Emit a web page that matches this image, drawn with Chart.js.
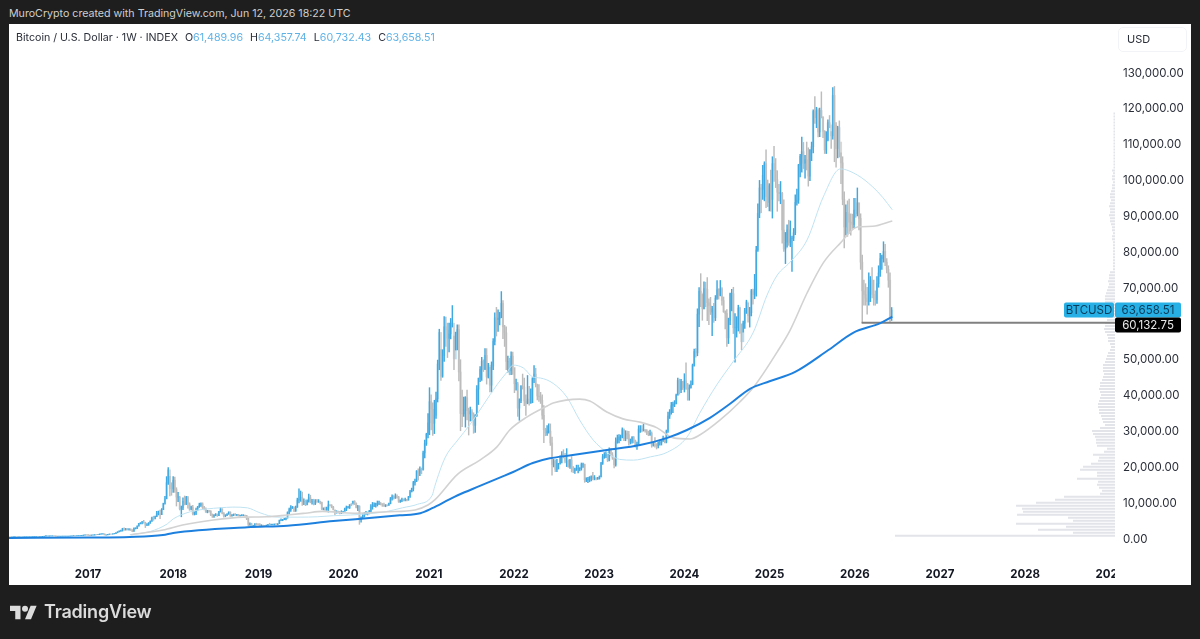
<!DOCTYPE html>
<html><head><meta charset="utf-8">
<style>
html,body{margin:0;padding:0;width:1200px;height:639px;overflow:hidden;background:#1e1e1e;font-family:Inter,"Liberation Sans",sans-serif}
#panel{position:absolute;left:9px;top:24px;width:1182px;height:561px;background:#fff}
canvas{position:absolute;left:0;top:0}
#top{position:absolute;left:9px;top:6px;font-size:10.65px;line-height:16px;color:#cfcfcf;white-space:nowrap}
#legend{position:absolute;left:16px;top:30px;font-size:10.65px;line-height:16px;color:#2a2e39;white-space:nowrap}
#legend b{font-weight:400;color:#5fb2e6;margin-right:7px}
#legend span{margin-right:7px}
#usd{position:absolute;left:1118px;top:27px;width:67px;height:23px;border:1px solid #f2f3f6;border-radius:5px;font-size:11px;line-height:23px;color:#2a2e39;text-indent:8px;box-sizing:content-box}
#brand{position:absolute;left:10px;top:600px;height:24px;color:#dcdcdc;font-size:18px;font-weight:600;line-height:24px;display:flex;align-items:center;gap:7px;letter-spacing:-.2px}
</style></head><body>
<div id="panel"></div>
<div id="top">MuroCrypto created with TradingView.com, Jun 12, 2026 18:22 UTC</div>
<canvas id="c" width="1200" height="639"></canvas>
<div id="legend"><span>Bitcoin / U.S. Dollar · 1W · INDEX</span>O<b>61,489.96</b>H<b>64,357.74</b>L<b>60,732.43</b>C<b>63,658.51</b></div>
<div id="usd">USD</div>
<div id="brand"><svg width="27" height="17" viewBox="0 3 36 20" fill="#dcdcdc"><path d="M14 22H7V11H0V4h14v18zM28 22h-8l7.5-18h8L28 22z"/><circle cx="20" cy="8" r="4"/></svg><span>TradingView</span></div>
<script src="https://cdn.jsdelivr.net/npm/chart.js@4/dist/chart.umd.min.js"></script>
<script>
// All prices in thousands of USD. Weekly bars, one entry per week in each calendar year.
const close2016=[.38,.37,.37,.40,.43,.41,.41,.42,.41,.41,.42,.42,.42,.42,.43,.45,.46,.46,.44,.44,.46,.52,.58,.70,.63,.66,.66,.68,.66,.62,.57,.58,.59,.61,.61,.61,.61,.63,.65,.70,.73,.70,.74,.74,.77,.79,.90,.97,.96];
const high2016=[.40,.39,.40,.44,.46,.43,.43,.43,.42,.42,.43,.43,.43,.43,.44,.47,.47,.47,.46,.46,.47,.55,.59,.78,.70,.68,.68,.70,.69,.66,.62,.60,.60,.62,.62,.62,.62,.64,.66,.72,.75,.75,.76,.76,.78,.80,.92,.98,.99];
const low2016=[.35,.35,.36,.37,.40,.39,.40,.40,.40,.40,.41,.41,.41,.41,.42,.43,.44,.44,.43,.43,.44,.45,.51,.56,.60,.62,.64,.65,.64,.60,.47,.56,.57,.58,.60,.60,.60,.61,.62,.64,.70,.69,.70,.72,.73,.75,.78,.89,.89];
const close2017=[.90,.82,.92,.92,1.01,1.00,1.05,1.19,1.22,1.23,.95,.97,1.08,1.19,1.18,1.25,1.33,1.55,1.82,2.05,2.20,2.70,2.50,2.55,2.50,2.55,2.30,1.95,2.75,2.85,3.40,4.10,4.30,4.40,4.30,3.70,3.80,4.30,4.75,5.70,5.60,6.10,6.90,7.00,6.60,8.00,9.70,11.0,15.5,19.1,13.9,13.8];
const high2017=[1.03,.93,.93,.97,1.04,1.04,1.06,1.22,1.28,1.30,1.25,.99,1.11,1.22,1.21,1.27,1.35,1.60,1.86,2.10,2.32,2.80,2.90,2.75,2.75,2.72,2.66,2.40,2.92,2.95,3.48,4.20,4.37,4.70,4.98,4.50,4.12,4.38,4.90,5.90,6.17,6.20,7.50,7.60,7.90,8.30,9.80,11.7,17.2,19.7,17.3,15.5];
const low2017=[.80,.75,.81,.87,.89,.96,.98,1.03,1.15,1.18,.94,.88,.91,1.07,1.14,1.15,1.24,1.32,1.55,1.78,1.93,2.00,2.20,2.30,2.30,2.30,2.20,1.83,1.92,2.60,2.70,3.37,4.00,4.00,4.20,3.00,3.55,3.60,4.15,4.70,5.00,5.40,6.00,6.50,5.50,6.60,8.00,9.50,11.0,15.0,11.8,12.0];
const close2018=[16.2,13.6,11.5,11.5,8.2,8.5,10.3,9.6,11.4,9.6,8.2,8.6,6.9,6.9,8.0,8.8,9.3,9.6,8.5,8.2,7.3,7.7,7.5,6.5,6.2,6.4,6.7,6.3,7.4,8.2,7.0,6.3,6.4,6.7,7.3,6.2,6.5,6.7,6.6,6.6,6.3,6.4,6.4,6.4,6.3,5.6,3.9,4.0,3.2,3.2,4.0,3.9,3.8];
const high2018=[17.2,17.1,14.1,12.8,11.7,9.0,11.3,11.8,11.7,11.7,9.9,9.0,9.2,7.4,8.4,8.9,9.8,9.9,9.9,8.9,8.5,7.8,7.8,7.7,6.8,6.6,6.9,6.8,7.5,8.5,8.3,7.2,6.6,6.9,7.4,7.4,6.6,6.8,6.9,6.7,6.7,6.5,6.6,6.6,6.5,6.4,5.6,4.3,4.2,3.6,4.1,4.2,4.1];
const low2018=[12.8,12.8,9.0,10.2,7.9,6.0,8.0,9.3,9.4,8.4,7.8,7.9,6.5,6.5,6.6,7.8,8.6,8.9,8.3,7.9,7.2,7.1,7.3,6.3,5.8,5.8,6.3,6.1,6.3,7.3,6.8,5.9,6.0,6.3,6.7,6.1,6.2,6.3,6.4,6.3,6.2,6.2,6.3,6.3,6.2,5.2,3.5,3.6,3.1,3.1,3.2,3.6,3.6];
const close2019=[3.5,3.6,3.5,3.4,3.6,3.9,3.8,3.9,3.9,4.0,3.9,4.1,5.0,5.0,5.2,5.3,5.7,7.2,8.0,8.7,8.7,7.6,8.7,10.7,10.8,11.4,10.2,10.3,9.5,10.4,11.3,10.3,10.3,9.6,10.4,10.3,10.3,10.0,8.2,8.2,7.9,8.3,9.3,9.2,8.7,8.0,7.2,7.4,7.3,7.2,7.3,7.3];
const high2019=[4.1,3.8,3.7,3.6,3.7,3.9,4.2,4.0,4.0,4.0,4.1,4.1,5.1,5.4,5.3,5.6,5.8,7.4,8.4,9.1,8.9,8.8,9.0,11.2,13.8,13.2,12.9,11.0,10.7,10.7,12.3,12.0,10.9,10.9,10.8,10.9,10.8,10.4,10.1,8.5,8.7,8.7,10.4,9.4,9.4,8.9,7.8,7.7,7.6,7.5,7.7,7.5];
const low2019=[3.4,3.5,3.4,3.3,3.3,3.6,3.7,3.7,3.7,3.7,3.9,3.8,4.1,4.9,4.9,5.2,5.1,5.6,6.9,7.5,8.3,7.4,7.5,8.6,9.9,10.3,9.2,9.4,9.1,9.3,10.1,9.9,9.5,9.3,9.4,10.0,10.0,9.6,8.0,7.9,7.8,7.8,7.3,9.0,8.5,7.9,6.6,7.0,7.0,6.8,6.9,7.1];
const close2020=[8.1,8.6,8.6,9.4,9.3,10.3,9.7,8.6,8.9,5.2,5.8,6.2,6.8,6.9,7.1,7.5,8.8,9.0,9.3,9.7,9.7,9.7,9.5,9.3,9.0,9.3,9.2,9.7,11.0,11.6,11.3,11.6,11.5,10.3,10.4,10.9,10.7,10.8,10.7,11.5,13.0,13.8,15.5,16.0,18.7,18.2,19.3,19.2,23.8,26.4,29.0,32.2];
const high2020=[8.4,9.0,8.9,9.4,9.7,10.4,10.5,9.9,9.2,9.1,6.0,6.9,7.2,7.5,7.3,7.8,9.4,10.0,9.9,9.8,10.4,10.4,10.0,9.7,9.8,9.4,9.3,9.8,11.4,12.1,11.9,12.4,12.1,11.7,10.7,11.2,11.0,11.2,10.9,11.7,13.4,14.0,15.9,16.5,18.9,19.4,19.9,19.6,24.3,27.4,29.3,34.8];
const low2020=[7.6,7.7,8.4,8.3,9.1,9.7,9.4,8.5,7.7,3.9,4.5,5.6,5.9,6.6,6.5,6.8,7.4,8.1,8.8,8.7,9.0,9.4,9.3,8.9,8.9,8.8,9.0,9.2,9.6,10.6,10.9,11.1,11.2,10.0,10.0,10.2,10.4,10.4,10.4,10.6,11.4,12.9,13.2,14.8,15.8,16.2,17.5,18.0,19.0,22.4,25.9,28.0];
const close2021=[38.1,36.0,32.1,34.3,38.9,48.6,57.4,45.2,50.9,59.0,58.1,55.8,57.0,60.0,60.0,50.0,57.0,58.2,46.4,34.8,34.7,35.8,39.2,35.6,34.7,35.3,34.3,31.5,34.2,41.6,44.6,47.1,49.3,47.2,51.0,45.0,48.3,42.7,48.0,54.9,61.5,61.0,61.3,61.5,65.5,59.0,57.3,49.3,49.3,46.7,50.8,47.7];
const high2021=[42.0,40.0,37.8,38.5,40.8,49.7,58.3,52.6,52.6,61.8,61.7,60.0,60.0,61.3,64.9,56.4,57.5,59.5,59.5,49.8,41.3,39.4,39.5,41.3,36.3,36.6,35.9,35.0,34.5,42.6,44.7,47.9,50.5,49.8,52.9,52.9,48.8,47.7,49.2,55.7,62.9,64.4,63.7,63.0,68.8,66.3,59.4,59.0,50.8,50.2,52.0,51.9];
const low2021=[28.9,30.2,28.7,29.2,33.4,38.0,47.0,44.0,44.9,49.3,53.5,50.4,52.0,55.6,58.9,47.0,52.5,52.5,43.9,30.0,31.1,34.0,31.0,33.0,28.8,32.7,32.7,29.3,29.5,34.0,37.3,43.7,44.0,46.5,47.0,43.0,44.7,40.8,40.8,47.0,53.9,56.4,57.7,59.5,61.5,55.7,53.5,47.0,46.3,45.6,45.6,45.7];
const close2022=[43.1,43.1,36.3,38.4,42.4,42.2,38.3,37.7,38.8,37.8,37.8,44.5,45.8,42.8,39.7,39.5,38.5,34.3,30.3,29.4,29.8,29.9,26.6,20.6,21.5,19.2,20.8,20.8,22.6,23.3,23.2,21.5,21.5,20.0,21.8,19.4,18.8,19.3,19.4,19.4,19.5,20.6,20.6,16.3,16.3,16.5,17.1,17.1,16.8,16.8,16.6,16.6];
const high2022=[47.5,44.4,43.5,38.9,42.6,45.8,44.7,40.0,45.4,42.4,41.7,44.8,48.2,47.4,43.0,42.9,40.7,40.0,37.0,30.7,31.4,31.9,31.9,28.2,22.0,21.9,22.0,20.9,23.0,24.2,24.7,23.7,25.0,21.9,22.0,22.8,20.0,19.6,20.4,20.4,19.7,21.0,21.0,20.7,16.9,17.0,17.2,17.4,18.4,17.5,16.9,17.0];
const low2022=[40.6,41.3,34.0,32.9,37.8,41.6,37.0,34.3,37.5,37.1,37.6,37.8,43.4,42.2,38.6,38.2,37.6,33.2,26.7,28.6,28.7,29.3,25.9,17.6,19.9,18.6,18.6,19.3,20.7,21.0,22.4,21.0,20.0,19.8,19.5,18.5,18.3,18.1,18.9,18.2,18.8,19.0,19.8,15.6,15.8,15.5,15.8,16.0,16.3,16.3,16.3,16.4];
const close2023=[17.1,20.9,22.7,23.0,23.3,21.8,24.6,23.2,22.4,20.5,26.9,27.5,28.2,28.3,30.3,27.8,29.2,28.9,26.8,27.1,28.1,27.2,25.9,26.3,30.5,30.5,30.2,30.3,30.0,29.3,29.0,29.3,26.0,26.1,25.9,25.8,26.6,26.6,27.0,27.9,26.9,29.9,34.1,35.0,37.0,37.4,37.5,39.9,44.0,41.4,43.7,42.1];
const high2023=[17.4,21.2,23.4,23.9,24.2,23.4,25.2,25.0,23.9,22.5,28.0,28.8,28.9,28.8,30.8,30.5,30.0,29.9,29.8,27.7,28.4,28.4,27.4,26.8,31.4,31.4,31.4,31.8,30.3,30.3,29.9,30.2,29.7,26.8,28.1,26.4,26.9,27.4,27.3,28.5,28.0,30.2,35.2,35.9,37.9,38.0,38.4,40.2,44.7,44.4,44.3,43.8];
const low2023=[16.5,17.1,20.6,22.3,22.5,21.4,21.6,23.0,22.0,19.6,20.1,26.5,26.6,27.2,28.0,27.2,27.2,27.7,26.0,26.3,26.5,26.6,25.4,24.8,26.2,29.5,29.7,29.9,29.6,28.9,28.6,28.7,25.4,25.7,25.4,24.9,25.2,26.0,26.0,27.0,26.6,26.6,29.5,33.4,34.6,35.0,36.7,37.5,39.9,40.2,40.6,41.5];
const close2024=[43.9,41.7,41.6,42.0,43.0,48.3,52.1,51.7,62.5,68.9,68.4,64.0,69.6,69.4,65.7,64.9,63.1,64.0,61.5,66.9,69.3,67.8,69.6,66.3,63.2,62.7,55.9,60.8,68.2,68.2,58.7,58.7,58.9,64.2,57.3,54.8,60.0,63.5,65.9,62.1,62.9,69.0,68.0,69.4,80.4,90.6,97.7,97.3,101.2,104.5,95.2,93.7,98.3];
const high2024=[45.9,48.9,43.2,42.8,43.9,48.6,52.8,52.9,64.0,69.9,73.8,68.0,71.5,71.4,72.7,66.8,67.2,64.7,65.5,67.7,71.9,69.6,71.9,69.9,67.3,63.4,63.8,61.4,68.4,69.4,70.0,62.7,61.8,65.0,64.5,59.8,60.6,64.1,66.4,65.5,64.4,69.4,69.5,73.6,81.4,93.3,99.8,98.7,104.0,105.0,108.3,99.9,98.9];
const low2024=[40.8,41.5,38.5,38.5,41.9,42.8,48.0,50.5,50.9,59.0,64.6,60.8,64.0,64.6,60.7,59.6,62.4,56.5,60.2,60.7,66.6,66.7,67.6,65.0,63.0,58.4,53.5,54.3,59.6,63.4,57.1,49.1,56.1,57.8,57.1,52.6,57.5,58.5,62.7,60.3,58.9,62.0,65.3,66.8,67.5,80.0,89.4,90.8,94.5,94.1,92.2,92.5,91.3];
const close2025=[94.5,104.5,102.6,100.0,96.5,96.1,96.2,86.0,80.7,82.6,86.0,82.4,83.5,83.7,85.2,93.7,94.3,104.1,106.5,107.8,104.6,105.6,105.4,101.0,108.3,109.2,119.0,117.3,119.4,113.3,119.3,117.4,113.5,108.3,111.1,115.9,115.3,112.2,123.5,115.2,108.7,114.5,110.5,104.7,94.5,86.8,90.9,90.4,88.2,88.0,87.5,91.5];
const high2025=[102.7,106.4,109.3,105.9,102.5,98.7,99.5,96.5,94.4,85.3,87.4,88.7,88.5,84.3,86.4,95.8,97.4,104.3,107.1,111.9,110.4,106.8,110.5,108.9,108.4,110.5,119.5,123.2,120.2,119.8,120.0,124.5,117.6,113.7,113.4,116.7,117.9,113.4,125.7,126.0,115.9,114.9,116.4,107.5,106.4,96.6,93.0,94.1,94.6,90.5,90.4,94.8];
const low2025=[91.2,89.3,99.5,97.8,91.2,94.1,93.3,82.3,80.0,76.6,81.2,81.7,81.3,74.4,83.0,84.7,92.9,93.4,100.8,102.1,103.1,100.4,102.7,98.2,99.7,105.3,107.5,115.7,114.5,111.9,112.0,117.2,111.7,107.3,107.3,110.8,114.5,108.7,111.3,105.0,103.5,106.1,106.3,98.9,93.0,81.0,84.5,84.2,85.0,84.5,86.4,86.6];
const close2026=[90.5,93.6,89.2,77.0,69.0,68.0,67.0,66.0,69.0,72.0,68.0,67.0,66.5,71.0,74.0,78.0,78.5,80.0,77.0,75.0,72.0,61.48996,63.65851];
const high2026=[94.8,97.7,93.5,90.5,79.0,72.0,71.0,70.0,74.0,73.0,75.5,72.0,69.0,73.0,76.0,79.5,79.0,82.7,82.0,78.0,76.0,74.0,64.35774];
const low2026=[89.5,89.9,86.0,75.0,60.1,65.0,65.0,62.5,65.0,66.0,67.0,65.0,65.0,65.5,70.0,73.0,75.0,77.0,76.0,74.0,70.0,60.2,60.73243];

const ma50Years=[2017.49,2017.73,2017.93,2018.00,2018.20,2018.40,2018.55,2018.70,2018.87,2019.02,2019.22,2019.34,2019.49,2019.69,2019.88,2020.08,2020.27,2020.49,2020.69,2020.87,2021.04,2021.07,2021.19,2021.34,2021.48,2021.64,2021.80,2021.92,2021.99,2022.11,2022.22,2022.31,2022.46,2022.62,2022.77,2022.93,2023.09,2023.24,2023.40,2023.60,2023.80,2024.03,2024.18,2024.38,2024.57,2024.81,2024.97,2025.09,2025.24,2025.44,2025.63,2025.83,2026.03,2026.21,2026.33,2026.44];
const ma50Values=[1.0,1.9,4.0,5.4,7.4,8.2,8.5,8.7,8.5,7.1,5.9,5.9,5.9,6.0,6.3,6.5,6.8,7.4,8.5,9.5,12.0,14.5,22.4,27.4,31.6,37.2,42.8,46.4,48.3,47.5,45.0,44.7,43.2,39.4,33.0,27.4,24.0,22.0,21.8,22.7,24.0,28.2,34.9,42.8,49.2,57.5,67.8,73.4,77.0,83.2,95.2,103.0,101.3,98.0,95.0,91.6];
const ma100Years=[2017.50,2017.88,2018.11,2018.47,2018.82,2019.10,2019.34,2019.55,2019.75,2020.13,2020.52,2020.84,2020.99,2021.07,2021.34,2021.60,2021.80,2021.95,2022.15,2022.39,2022.46,2022.77,2022.89,2023.09,2023.28,2023.48,2023.68,2023.87,2024.07,2024.18,2024.42,2024.65,2024.83,2025.09,2025.24,2025.44,2025.63,2025.83,2026.03,2026.21,2026.44];
const ma100Values=[1.0,2.3,3.7,5.1,5.9,6.0,6.5,7.0,7.5,7.0,7.4,7.9,9.3,10.7,17.9,21.8,25.5,30.2,33.8,36.9,37.7,38.8,38.3,35.2,33.3,32.4,30.8,28.0,27.7,28.8,33.0,38.0,42.7,52.0,58.0,68.4,76.8,82.3,86.8,87.0,88.5];
const ma200Years=[2016.07,2017.00,2017.49,2017.88,2018.00,2018.87,2019.34,2019.88,2020.27,2020.66,2020.90,2021.04,2021.23,2021.34,2021.60,2021.84,2021.99,2022.22,2022.42,2022.69,2023.09,2023.48,2023.80,2024.03,2024.30,2024.54,2024.77,2025.00,2025.30,2025.69,2025.98,2026.30,2026.44];
const ma200Values=[0.1,0.2,0.35,0.9,1.5,3.1,3.5,4.8,5.6,6.4,7.0,8.4,10.7,12.0,14.6,17.0,18.5,21.0,22.3,23.2,24.6,26.0,28.0,30.2,33.6,37.6,41.7,43.8,46.4,52.5,57.3,60.0,61.8];

// Volume profile: relative row lengths, from the lowest price row upward.
const profileVolumes=[220,42,77,49,99,42,47,98,92,93,99,79,60,51,15,13,16,18,17,38,18,18,35,32,24,17,16,22,11,8,18,19,19,20,22,23,15,10,12,13,14,16,16,17,17,16,15,14,15,16,15,15,13,12,11,12,12,12,10,9,8,7,5,4,5,7,7,8,10,11,10,10,8,8,9,9,9,8,10,10,10,9,8,7,6,7,6,6,5,2,2,2,2,2,2,2,2,2,2,3,3,2,3,3,4,5,5,6,5,5,6,5,4,5,5,4,3,3,2,3,3,2,3,1.5,1.5,1.5,1.5,1.5,1.5,1.5,1.5,1.5,1.5,1.5,1.5,1.5,1.5,1.5,1.5,1.5,1.5,1.5];
const profileFirstLevel=0.73, profileRowHeight=0.835;

const yearBlocks=[[2016,24,close2016,high2016,low2016],[2017,1,close2017,high2017,low2017],[2018,0,close2018,high2018,low2018],[2019,6,close2019,high2019,low2019],[2020,5,close2020,high2020,low2020],[2021,3,close2021,high2021,low2021],[2022,2,close2022,high2022,low2022],[2023,1,close2023,high2023,low2023],[2024,0,close2024,high2024,low2024],[2025,5,close2025,high2025,low2025],[2026,4,close2026,high2026,low2026]];
const yTicksTop=130, lastClose=63.65851, markLevel=60.13275, markStartYear=2026.08;
const UP_WICK='#3ea8e0',UP_BODY='#b4dcf2',DN_WICK='#bcbcbc',DN_BODY='#d8d8d8';

const wicks=[],bodies=[],wickCol=[],bodyCol=[];
let prev=0.37;
yearBlocks.forEach(([yr,day,cl,hi,lo])=>{
  cl.forEach((c,i)=>{
    const t=yr+(day+i*7)/365.25;
    const o=prev;
    wicks.push({x:t,y:[lo[i],hi[i]]});
    bodies.push({x:t,y:[Math.min(o,c),Math.max(o,c)]});
    const up=c>=o;
    wickCol.push(up?UP_WICK:DN_WICK);
    bodyCol.push(up?UP_BODY:DN_BODY);
    prev=c;
  });
});
const pair=(xs,ys)=>xs.map((x,i)=>({x,y:ys[i]}));
const profile=[];
profileVolumes.forEach((v,i)=>{
  const lvl=profileFirstLevel+i*profileRowHeight;
  profile.push({x:0,y:lvl},{x:v,y:lvl},{x:0,y:null});
});

const tagsPlugin={id:'tags',
 afterDraw(chart){
  const {ctx,scales:{y}}=chart,A=chart.chartArea,R=A.right,H=15;
  ctx.save();
  // time axis stops where the price column begins
  ctx.fillStyle='#fff';ctx.fillRect(R,A.bottom,76,25);
  ctx.font='11.5px Inter';ctx.textBaseline='middle';
  const yc=y.getPixelForValue(lastClose);
  ctx.fillStyle='#26b0e6';
  ctx.beginPath();ctx.roundRect(R-51,yc-H/2,50,H,2);ctx.fill();
  ctx.beginPath();ctx.roundRect(R,yc-H/2,66,H,2);ctx.fill();
  ctx.fillStyle='#0d3c5a';ctx.textAlign='center';
  ctx.fillText('BTCUSD',R-26,yc+.5);
  ctx.fillText('63,658.51',R+33,yc+.5);
  const yb=yc+H;
  ctx.fillStyle='#000';
  ctx.beginPath();ctx.roundRect(R,yb-H/2,66,H,2);ctx.fill();
  ctx.fillStyle='#e8e8e8';
  ctx.fillText('60,132.75',R+33,yb+.5);
  ctx.restore();
}};

new Chart(document.getElementById('c'),{
  type:'bar',
  data:{datasets:[
    {type:'line',label:'Profile',xAxisID:'xVol',data:profile,borderColor:'#e2e4ea',borderWidth:2,pointRadius:0,spanGaps:false,order:9},
    {label:'Bodies',data:bodies,backgroundColor:bodyCol,barThickness:1.5,grouped:false,borderWidth:0,order:7},
    {label:'Wicks',data:wicks,backgroundColor:wickCol,barThickness:.8,grouped:false,borderWidth:0,order:6},
    {type:'line',label:'Level',data:[{x:markStartYear,y:markLevel},{x:2029.054,y:markLevel}],borderColor:'#808080',borderWidth:2,pointRadius:0,order:5},
    {type:'line',label:'MA50',data:pair(ma50Years,ma50Values),borderColor:'#bfe3f2',borderWidth:1,pointRadius:0,cubicInterpolationMode:'monotone',order:4},
    {type:'line',label:'MA100',data:pair(ma100Years,ma100Values),borderColor:'#d2d2d2',borderWidth:1.6,pointRadius:0,cubicInterpolationMode:'monotone',order:3},
    {type:'line',label:'MA200',data:pair(ma200Years,ma200Values),borderColor:'#1e80de',borderWidth:2,pointRadius:0,cubicInterpolationMode:'monotone',order:2}
  ]},
  options:{
    responsive:false,animation:false,devicePixelRatio:1,
    layout:{padding:{left:9,top:24,right:0,bottom:0}},
    plugins:{legend:{display:false},tooltip:{enabled:false},title:{display:false}},
    scales:{
      x:{type:'linear',position:'bottom',min:2016.073,max:2029.054,offset:false,
        grid:{display:false,drawTicks:false},border:{display:false},
        afterFit(s){s.height=79;},
        ticks:{stepSize:1,includeBounds:false,autoSkip:false,maxRotation:0,padding:8,color:'#131722',
          font:{family:'Inter',size:11.5,weight:'700'},callback:v=>String(v)}},
      xVol:{type:'linear',axis:'x',display:false,min:0,max:1106,reverse:true,offset:false},
      y:{type:'linear',position:'right',min:-6.051,max:143.419,
        grid:{display:false,drawTicks:false},border:{display:false},
        afterFit(s){s.width=85;},
        ticks:{stepSize:10,includeBounds:false,padding:8,labelOffset:1,color:'#2a2e39',autoSkip:false,
          font:{family:'Inter',size:11.5},
          callback:v=>v>yTicksTop?'':(v*1000).toLocaleString('en-US',{minimumFractionDigits:2,maximumFractionDigits:2})}}
    }
  },
  plugins:[tagsPlugin]
});
</script>
</body></html>
